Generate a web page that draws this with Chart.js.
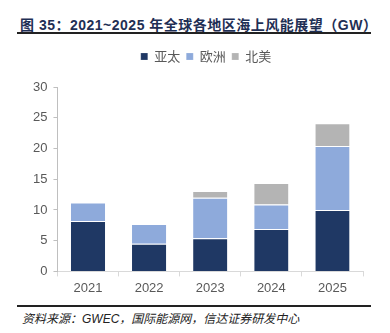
<!DOCTYPE html>
<html>
<head>
<meta charset="utf-8">
<script src="https://cdn.jsdelivr.net/npm/chart.js@4"></script>
<style>
    body { margin: 0; background: #fff; width: 390px; height: 333px; position: relative; overflow: hidden; font-family: "Liberation Sans", "Noto Sans CJK SC", sans-serif; }
    .title { position: absolute; left: 20px; top: 14px; font-size: 14px; font-weight: bold; color: #1f2f55; white-space: nowrap; letter-spacing: 0.5px; }
    .rule { position: absolute; left: 17px; width: 354px; height: 1.5px; background: #222; }
    .source { position: absolute; left: 22px; top: 309px; font-size: 12px; font-style: italic; color: #222; white-space: nowrap; }
    .chart-box { position: absolute; left: 0; top: 44px; width: 390px; height: 256px; }
</style>
</head>
<body>
<div class="title">图 35：2021~2025 年全球各地区海上风能展望（GW）</div>
<div class="rule" style="top: 32px;"></div>
<div class="chart-box"><canvas id="windChart"></canvas></div>
<div class="rule" style="top: 305px;"></div>
<div class="source">资料来源：GWEC，国际能源网，信达证券研发中心</div>
<script>
    const years = ['2021', '2022', '2023', '2024', '2025'];
    const asiaPacific = [8.2, 4.5, 5.4, 6.9, 10.0];
    const europe = [3.0, 3.2, 6.6, 4.0, 10.4];
    const northAmerica = [0, 0, 1.1, 3.5, 3.7];
    const yTicks = [0, 5, 10, 15, 20, 25, 30];

    // more room under the legend, and nudge it a little to the right
    const legendTweak = {
        id: 'legendTweak',
        beforeInit(chart) {
            const legend = chart.legend;
            const fit = legend.fit;
            legend.fit = function() {
                fit.call(this);
                this.height += 14;
            };
            const draw = legend.draw;
            legend.draw = function() {
                this.left += 11;
                this.right += 11;
                draw.call(this);
                this.left -= 11;
                this.right -= 11;
            };
        }
    };

    document.addEventListener('DOMContentLoaded', function() {
        const ctx = document.getElementById('windChart').getContext('2d');
        const tickFont = { family: '"Liberation Sans", "Noto Sans CJK SC", sans-serif', size: 13 };

        new Chart(ctx, {
            type: 'bar',
            data: {
                labels: years,
                datasets: [
                    { label: '亚太', data: asiaPacific, backgroundColor: '#1f3864' },
                    { label: '欧洲', data: europe, backgroundColor: '#8eaadb' },
                    { label: '北美', data: northAmerica, backgroundColor: '#b4b4b4' }
                ].map(ds => Object.assign(ds, {
                    borderColor: 'rgba(255,255,255,0.7)',
                    borderWidth: { top: 1 },
                    borderSkipped: 'bottom',
                    categoryPercentage: 1,
                    barPercentage: 0.56
                }))
            },
            options: {
                responsive: true,
                maintainAspectRatio: false,
                animation: false,
                layout: { padding: { left: 27, right: 27, top: 0, bottom: 0 } },
                plugins: {
                    legend: {
                        position: 'top',
                        labels: {
                            color: '#595959',
                            font: { family: '"Noto Sans CJK SC", sans-serif', size: 13 },
                            boxWidth: 7,
                            boxHeight: 7,
                            padding: 6
                        }
                    },
                    tooltip: { enabled: false }
                },
                scales: {
                    x: {
                        stacked: true,
                        grid: {
                            display: true,
                            drawOnChartArea: false,
                            offset: true,
                            tickLength: 5,
                            color: '#d9d9d9'
                        },
                        border: { color: '#d9d9d9' },
                        ticks: { color: '#595959', font: tickFont, padding: 4 }
                    },
                    y: {
                        stacked: true,
                        min: 0,
                        max: 30,
                        afterBuildTicks: function(axis) {
                            axis.ticks = yTicks.map(v => ({ value: v }));
                        },
                        grid: {
                            display: true,
                            drawOnChartArea: false,
                            tickLength: 4,
                            color: '#bfbfbf'
                        },
                        border: { color: '#bfbfbf' },
                        ticks: { color: '#595959', font: tickFont, padding: 6 }
                    }
                }
            },
            plugins: [legendTweak]
        });
    });
</script>
</body>
</html>
